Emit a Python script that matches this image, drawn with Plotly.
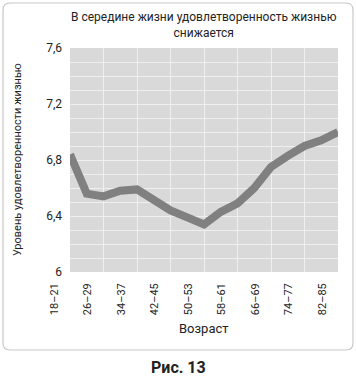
import plotly.graph_objects as go

# ---- data ----
age_bins = ["18–21", "22–25", "26–29", "30–33", "34–37", "38–41", "42–45", "46–49",
            "50–53", "54–57", "58–61", "62–65", "66–69", "70–73", "74–77", "78–81", "82–85"]
satisfaction = [6.84, 6.56, 6.54, 6.58, 6.59, 6.51, 6.44, 6.39, 6.34,
                6.43, 6.49, 6.60, 6.75, 6.83, 6.90, 6.94, 7.00]
y_tick_vals = [6.0, 6.4, 6.8, 7.2, 7.6]
y_tick_text = ["6", "6,4", "6,8", "7,2", "7,6"]
title_text = "В середине жизни удовлетворенность жизнью<br>снижается"
y_title = "Уровень удовлетворенности жизнью"
x_title = "Возраст"
caption = "Рис. 13"

# ---- layout geometry (pixels) ----
W, H = 356, 381
L, R, T, B = 70, 18, 48, 109
PW, PH = W - L - R, H - T - B

def px(x):
    return (x - L) / PW

def py(y):
    return (H - B - y) / PH

FONT = "Roboto, Liberation Sans, sans-serif"
TXT = "#222222"

idx = list(range(len(age_bins)))
label_idx = idx[::2]

fig = go.Figure()
fig.add_trace(go.Scatter(
    x=idx, y=satisfaction, mode="lines",
    line=dict(color="#808080", width=8),
    hoverinfo="skip", showlegend=False,
))

fig.update_layout(
    width=W, height=H,
    margin=dict(l=L, r=R, t=T, b=B),
    paper_bgcolor="white",
    plot_bgcolor="#d9d9d9",
    font=dict(family=FONT, color=TXT, size=12),
    showlegend=False,
)
fig.update_xaxes(
    range=[0, len(age_bins) - 1],
    tickmode="array", tickvals=label_idx, ticktext=[age_bins[i] for i in label_idx],
    tickangle=-90, ticklabelshift=-16, ticklabelstandoff=8,
    showgrid=True, gridcolor="#efefef", gridwidth=1,
    zeroline=False, showline=False, ticks="",
    tickfont=dict(size=11, family=FONT, color=TXT),
    fixedrange=True,
)
fig.update_yaxes(
    range=[6.0, 7.6],
    tickmode="array", tickvals=y_tick_vals, ticktext=y_tick_text,
    showgrid=True, gridcolor="#efefef", gridwidth=1,
    minor=dict(dtick=0.1, tick0=6.0, showgrid=True, gridcolor="#efefef", gridwidth=1),
    zeroline=False, showline=False, ticks="", ticklabelstandoff=7,
    tickfont=dict(size=12, family=FONT, color=TXT),
    fixedrange=True,
)

fig.add_annotation(text=title_text, x=0.5, y=py(25.5), xref="paper", yref="paper",
                   xanchor="center", yanchor="middle", showarrow=False,
                   font=dict(size=12, family=FONT, color=TXT))
fig.add_annotation(text=y_title, x=px(17), y=0.5, xref="paper", yref="paper",
                   textangle=-90, xanchor="center", yanchor="middle", showarrow=False,
                   font=dict(size=11, family=FONT, color=TXT))
fig.add_annotation(text=x_title, x=0.5, y=py(328), xref="paper", yref="paper",
                   xanchor="center", yanchor="middle", showarrow=False,
                   font=dict(size=13, family=FONT, color=TXT))
fig.add_annotation(text="<b>" + caption + "</b>", x=px(178), y=py(367), xref="paper", yref="paper",
                   xanchor="center", yanchor="middle", showarrow=False,
                   font=dict(size=16, family=FONT, color=TXT))

# rounded frame
x0, x1, y0, y1 = px(3), px(353), py(350), py(3)
rx, ry = 7 / PW, 7 / PH
path = (f"M {x0+rx},{y1} L {x1-rx},{y1} Q {x1},{y1} {x1},{y1-ry} "
        f"L {x1},{y0+ry} Q {x1},{y0} {x1-rx},{y0} L {x0+rx},{y0} "
        f"Q {x0},{y0} {x0},{y0+ry} L {x0},{y1-ry} Q {x0},{y1} {x0+rx},{y1} Z")
fig.add_shape(type="path", path=path, xref="paper", yref="paper",
              line=dict(color="#c8c8c8", width=1.2), layer="below")

fig.write_html("out.html",
               config={"displayModeBar": False},
               post_script="document.body.style.margin='0';document.body.style.overflow='hidden';")
